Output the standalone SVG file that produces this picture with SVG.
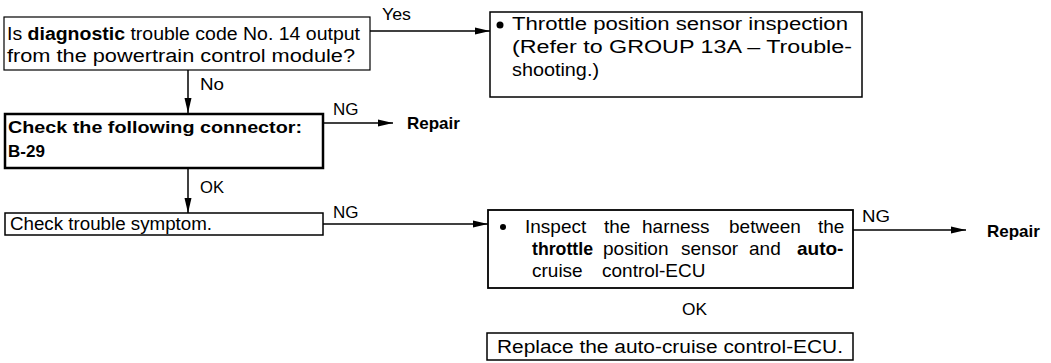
<svg xmlns="http://www.w3.org/2000/svg" width="1051" height="363" viewBox="0 0 1051 363">
<defs>
<style>
.box{fill:#fff;stroke:#000}
.t{font-family:"Liberation Sans",Arial,sans-serif;font-size:17px;fill:#000}
.m{font-size:18px}
.n{font-size:19px}
.b{font-weight:bold}
.ln{stroke:#000;stroke-width:1.5;fill:none}
</style>
<marker id="ah" markerUnits="userSpaceOnUse" markerWidth="16" markerHeight="10" refX="15" refY="5" orient="auto">
<path d="M0,1.5 L15,5 L0,8.5 Z" fill="#000"/>
</marker>
</defs>
<rect width="1051" height="363" fill="#fff"/>

<g id="connectors">
<line class="ln" x1="370" y1="31" x2="490" y2="31" marker-end="url(#ah)"/>
<text class="t" x="382" y="20" textLength="29" lengthAdjust="spacingAndGlyphs">Yes</text>
<line class="ln" x1="188" y1="70" x2="188" y2="113" marker-end="url(#ah)"/>
<text class="t" x="200" y="90" textLength="24" lengthAdjust="spacingAndGlyphs">No</text>
<line class="ln" x1="323" y1="123" x2="393" y2="123" marker-end="url(#ah)"/>
<text class="t" x="333" y="115">NG</text>
<text class="t b" x="407" y="129">Repair</text>
<line class="ln" x1="188" y1="168" x2="188" y2="213" marker-end="url(#ah)"/>
<text class="t" x="200" y="193" textLength="24" lengthAdjust="spacingAndGlyphs">OK</text>
<line class="ln" x1="323" y1="224" x2="488" y2="224" marker-end="url(#ah)"/>
<text class="t" x="333" y="218">NG</text>
<line class="ln" x1="853" y1="230" x2="966" y2="230" marker-end="url(#ah)"/>
<text class="t" x="862" y="222" textLength="28" lengthAdjust="spacingAndGlyphs">NG</text>
<text class="t b" x="987" y="237">Repair</text>
<text class="t" x="682" y="315" textLength="25" lengthAdjust="spacingAndGlyphs">OK</text>
</g>

<g id="n1">
<rect class="box" x="4" y="17" width="366" height="53" stroke-width="1.2"/>
<text class="t m" x="7" y="40" textLength="353" lengthAdjust="spacingAndGlyphs">Is <tspan class="b">diagnostic</tspan> trouble code No. 14 output</text>
<text class="t m" x="7" y="62" textLength="348" lengthAdjust="spacingAndGlyphs">from the powertrain control module?</text>
</g>

<g id="n2">
<rect class="box" x="490" y="12" width="372" height="85" stroke-width="1.5"/>
<circle cx="500" cy="25" r="3.5" fill="#000"/>
<text class="t m" x="512" y="30" textLength="336" lengthAdjust="spacingAndGlyphs">Throttle position sensor inspection</text>
<text class="t m" x="512" y="53" textLength="340" lengthAdjust="spacingAndGlyphs">(Refer to GROUP 13A – Trouble-</text>
<text class="t m" x="512" y="76" textLength="87" lengthAdjust="spacingAndGlyphs">shooting.)</text>
</g>

<g id="n3">
<rect class="box" x="5" y="114" width="318" height="54" stroke-width="2.5"/>
<text class="t b" x="8" y="133" textLength="294" lengthAdjust="spacingAndGlyphs">Check the following connector:</text>
<text class="t b" x="8" y="157">B-29</text>
</g>

<g id="n4">
<rect class="box" x="5" y="213" width="318" height="22" stroke-width="1.5"/>
<text class="t m" x="10" y="230" textLength="202" lengthAdjust="spacingAndGlyphs">Check trouble symptom.</text>
</g>

<g id="n5">
<rect class="box" x="488" y="210" width="365" height="78" stroke-width="1.8"/>
<circle cx="503" cy="227" r="3" fill="#000"/>
<text class="t n" y="233"><tspan x="525">Inspect</tspan><tspan x="604">the</tspan><tspan x="642">harness</tspan><tspan x="729">between</tspan><tspan x="818">the</tspan></text>
<text class="t n" y="255"><tspan x="532" class="b" textLength="61" lengthAdjust="spacingAndGlyphs">throttle</tspan><tspan x="603">position</tspan><tspan x="681">sensor</tspan><tspan x="749">and</tspan><tspan x="797" class="b">auto-</tspan></text>
<text class="t n" y="277"><tspan x="532">cruise</tspan><tspan x="602">control-ECU</tspan></text>
</g>

<g id="n6">
<rect class="box" x="487" y="333" width="366" height="27" stroke-width="1.5"/>
<text class="t m" x="497" y="353" textLength="346" lengthAdjust="spacingAndGlyphs">Replace the auto-cruise control-ECU.</text>
</g>
</svg>
